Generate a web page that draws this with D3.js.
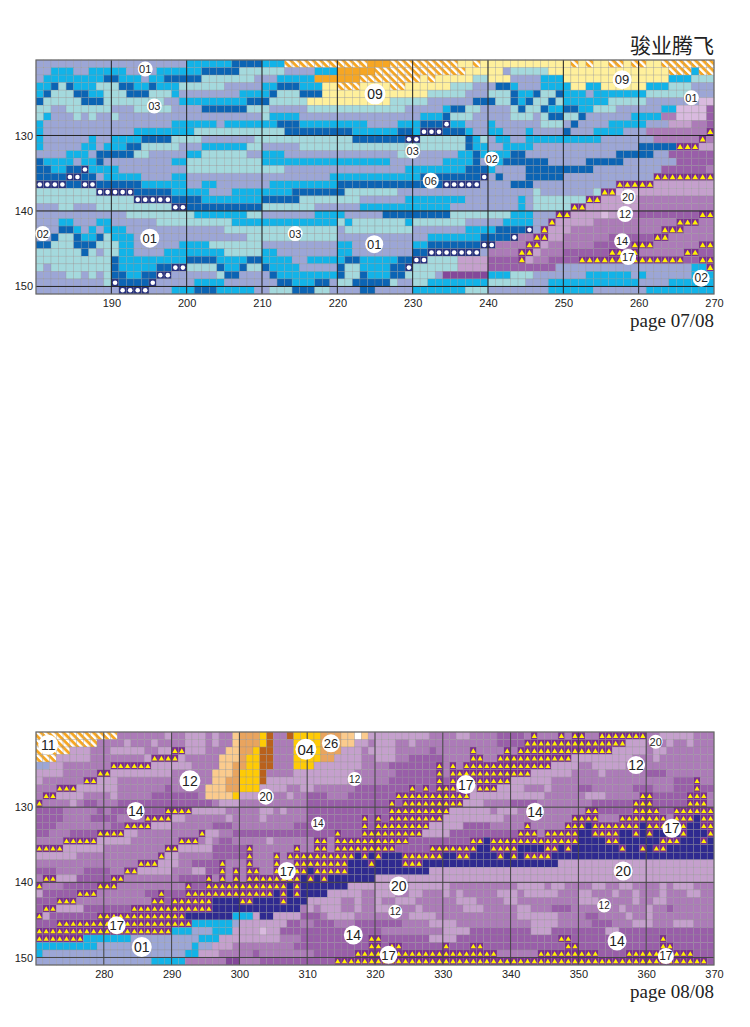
<!DOCTYPE html>
<html><head><meta charset="utf-8">
<script src="https://cdn.jsdelivr.net/npm/d3@7"></script>
<style>html,body{margin:0;background:#fff}svg{display:block}</style></head>
<body><div id="c"></div>
<script>
const topRows=[
"a0-19 c20-25 d26-29 c30-32 h33-43 o44-46 h47-55 y56-57 h58 y59-70 h71 y72 h73 y74-75 h76-77 y78 h79-80 y81-82 h83-89",
"a0-1 c2-4 a5-6 c7-11 a12-15 c16-21 d22-26 b27-32 a33-36 c37-39 o40-44 h45-56 y57-61 a62 b63-67 y68-83 h84-86 c87 h88-89",
"a0 c1-8 d9-10 c11-13 a14 c15-16 d17-21 b22-28 a29-31 c32-36 o37-42 h43-50 y51 h52 y53-57 b58-59 y60-62 a63-66 c67-69 y70-83 c84-86 b87-89",
"c0-1 d2 b3 d4 c5-7 b8-10 d11-12 c13-14 d15 c16-18 b19-24 a25-29 c30-31 d32-34 c35-37 y38-39 h40-42 y43-46 h47-48 y49-54 b55-57 a58-60 d61-62 c63 a64-66 c67-69 c70 y71-72 c73-74 y75-80 c81-83 b84-86 a87-89",
"c0 d1 b2-4 d5-6 c7-8 b9-11 d12-14 b15-17 c18 a19-26 c27-29 c30 d31 b32-34 d35-37 y38-51 b52-56 a57-59 b60-62 d63 c64-65 d66 b67-68 d69 c70-72 a73 c74-80 b81-86 a87-89",
"d0 b1-5 d6-8 b9-16 a17-18 c19-27 d28-30 b31-35 y36-46 b47-51 a52-57 d58-60 b61-62 d63 c64 d65 b66-67 d68 b69 c70-75 b76-80 a81-87 e88-89",
"b0-1 a2-3 b4-9 a10-12 b13-17 a18-21 d22-27 b28-30 a31-35 b36-48 a49-53 c54 d55-56 b57-58 a59-62 b63 d64 b65-66 d67 c68-69 d70-71 c72-73 b74-76 a77-82 c83-84 e85-88 p89",
"b0 c1 a2-4 b5 a6 b7 a8-9 b10 a11-29 b30 c31-34 a35-50 c51-53 d54 b55-57 a58-62 b63-65 a66 b67 d68-69 b70-71 d72 a73-78 c79-82 g83-84 e85-88 p89",
"c0 a1-17 c18-23 a24 c25-31 d32-34 c35-43 a44-47 c48-50 d51-53 w54 c55-56 a57-59 c60 a61-66 b67-69 a70 d71 a72-75 c76-80 a81-83 f84-86 g87-88 p89",
"c0 a1-12 c13-20 b21-32 d33-41 c42-47 d48-49 c50 w51-53 d54-56 c57 a58-59 c60-61 a62-64 c65 a66-69 d70 a71-73 c74-77 a78-80 g81-88 t89",
"c0 a1-6 c7 a8-9 c10-13 d14-17 b18-21 a22-28 b29-41 d42-48 w49-50 b51-56 d57 c58 b59 a60 c61-62 a63-64 c65-74 a75-81 g82-87 t88 g89",
"c0 a1-5 c6-7 a8 c9-11 d12-13 b14-18 a19-21 c22-27 b28-29 a30-34 b35-56 d57 c58-59 a60-61 c62-65 a66-79 d80-84 t85-87 f88-89",
"a0-3 c4-6 a7 d8-12 b13-14 a15-19 c20-21 b22-27 a28-29 c30-32 a33-47 b48-49 a50-55 c56-57 d58 c59-62 d63-64 a65-76 d77-81 a82-83 p84-89",
"d0 c1-4 a5 c6-7 d8 a9-17 c18-19 b20-29 c30-46 a47-53 c54-57 d58 a59 c60-61 d62-67 a68-72 d73-77 a78-84 p85-89",
"d0-1 c2-3 d4-5 w6 c7-10 a11-19 b20-29 b30-32 a33-48 c49-56 d57-59 c60 a61-64 d65-73 a74-82 p83-88 g89",
"d0-3 w4-5 d6-7 a8 c9-13 a14-17 c18-19 a20-29 a30-38 c39-50 d51-58 w59 a60 d61 a62-64 d65-69 a70-81 t82-89",
"w0-3 d4-5 w6-7 d8-13 c14-19 a20-21 c22-23 a24-30 c31-39 d40-53 w54-58 a59-62 d63-65 a66-76 t77-81 f82-89",
"b0-7 w8-12 d13-17 c18-22 a23-25 c26-29 c30-33 d34-40 b41-47 a48-65 b66 a67-73 b74 t75-76 e77-79 f80-89",
"b0-12 w13-17 d18-21 c22-29 d30-34 b35-42 a43-48 c49-56 a57-63 c64 a65 b66-72 t73-74 f75-79 g80-89",
"a0-2 b3-4 a5-7 b8-17 w18-19 d20-29 b30-36 a37-42 c43-54 a55-63 c64 a65 b66-70 t71-72 f73-79 g80-89",
"a0-11 b12-20 c21-27 b28-29 a30-36 c37-40 a41-45 d46-54 b55-62 c63-65 a66-68 t69-70 f71-77 e75 g78-79 p80-87 t88-89",
"a0-2 c3-4 a5-7 c8-9 a10-15 b16-25 c26-39 b40 c41 b42-48 c49 b50-56 a57-61 c62-65 a66-67 t68 f69-73 g74-84 t85-87 g88-89",
"a0-2 d3-4 c5 a6 c7 a8 c9-11 a12-24 b25-29 b30-39 a40 b41-49 a50-56 c57-60 d61-64 w65 a66 t67 f68-70 g71-82 t83-85 g86-89",
"a0-1 d2 b3-4 d5 c6-7 d8 b9 c10-12 a13-27 b28-39 a40-51 c52-58 d59-62 w63 g64-65 t66-67 f68-69 g70-75 p76-81 t82-83 g84-89",
"d0-1 b2-4 d5-7 b8-10 c11-12 a13-18 c19-22 b23-29 a30-39 c40-41 a42-49 c50-51 d52-58 w59-60 g61-64 t65-66 f67 g68-73 p74-78 t79-81 g82-87 t88-89",
"b0-5 d6 b7 a8 b9-10 c11-12 a13-16 c17-24 b25-29 c30-31 a32-39 c40-41 a42-49 d50-51 w52-58 a59 g60-63 t64-65 f66 g67-69 p70-75 t76-77 g78 t79 g80-85 t86-87 p88-89",
"b0-9 d10 c11-19 d20-23 c24-27 d28-29 c30-33 a34-35 c36-40 d41-42 c43-47 d48-49 w50-51 b52-55 f56-59 p60-63 t64 f65 g66-67 p68-71 t72-85 p86-87 t88-89",
"b0 a1 b2-9 d10 c11-15 d16-17 w18-19 b20-23 d24 c25-26 d27 b28-29 d30 c31-34 a35-39 d40 b41-42 c43-46 d47-48 w49 b50-55 f56-59 p60-68 a69-86 c87-88 t89",
"a0-3 b4-5 a6 b7 a8 b9 d10-11 c12-13 d14-15 w16-17 a18-23 b24 d25-26 a27-30 d31 c32-39 d40 b41-42 d43 c44-46 d47-48 b49-52 a53 q54-59 c60-62 b63-65 a66-72 c73-78 a79 c80 a81-86 c87-89",
"a0-8 b9 w10 d11-14 w15 a16-20 c21-24 a25-31 d32-33 c34-36 d37-38 a39 b40-41 d42-46 b47 a48-49 b50-51 c52-59 b60-64 a65-67 c68-79 a80-83 c84-89",
"a0-10 w11-14 a15-17 c18-20 d21-23 c24-28 a29-30 b31-33 d34-36 b37-38 a39-42 d43-44 a45-49 c50-56 b57-59 a60-67 c68-73 a74-80 c81-89"
];
const bottomRows=[
"g0-99 h0-11 f19 f22-24 f26 s29 u30-32 v33 r34 r37 v38-41 u42-44 s45-46 W47 s48 f49-57 f62-63 p68-71 t73 t77 t79-80 t83-89 f92-96",
"g0-99 h0-8 f13 f17 f22-24 f26 s29 u30-32 v33 r34 v38-41 u42-44 s45-46 f47-48 f50-52 f55 p68-71 t72-86 f87-89 f93 f96",
"g0-99 h0-4 f5-7 f11-15 f18-19 t20-21 f22-24 s28-29 u30-31 v32 r33-34 v38-41 u42-44 f45-47 f49-52 p58 t64 t69 t71-84 f85-89 f91-92",
"g0-99 h0-2 f3-7 f16 t17-20 f21 s27-29 u30 v31-32 r33-34 v38-41 u42-43 f44-47 f50-52 p55-59 t64-65 t68-78 f79-87 f91",
"g0-99 a0-1 f2-3 t11-16 f17-22 s27-28 u29-30 v31-32 r33-34 v38-40 f41-47 p52-58 t59 t61 t63-75 f76-79 f82-86",
"g0-99 f0-3 t9-10 f11-19 s26-28 u29 v30-32 r33 f38-46 p53-58 t59 t61-72 f73-78 f83 p90-92",
"g0-99 f0 t7-8 f9-11 s26-27 u28-29 v30-32 r33 f34-46 p52-58 t59 p60 t61-69 f70-75 p94-96 t97",
"g0-99 t3-5 f6-11 p19 s25-27 u28-29 v30-32 f33-36 f39-40 p47-54 t55 p56 t57 p58 t59-61 f62-64 t65-67 f68-71 f75 p80-81 p88-90 p94-99 t97",
"g0-99 t1-2 f3-6 f11 p17-23 s25-28 v29 f30-33 f37 p40-42 p46-52 t53-63 f64-74 f81-83 p91-95 t89-90 t96-98",
"g0-99 t0 f5 p7-8 p12-25 f27-29 p40-51 t52 p53 t54-62 f63-65 p70-73 p82-87 p91-95 t88-90 t96-98",
"g0-99 p0-3 p9 p11-18 t19-22 f23-27 f33-34 f36 p40-51 t52-60 f61-66 f68-70 p83-87 p92-93 t81-82 t88-91 t94-99",
"g0-99 p0-3 p8-11 t16-19 f20-21 f28 f33 p40-47 t48 p49 t50 p51 t52-59 f60-68 t79-82 t86-92 t94-96 n97 t98-99",
"g0-99 p0-2 p11-12 t13-16 f17-19 p26-28 p38-47 t48 p49 t50-57 f58-62 p63-66 t72 t78-80 n81 t82-88 n89 t90-92 t95 n96-97 t98-99",
"g0-99 p0-1 p5-8 t9-12 f13-14 t24 f25-26 p29-43 t44 p45-47 t48-56 f57-60 p61-70 t71-73 t75-79 n80-81 t82-85 n86-87 t88 n89 t90 n91-92 t93 n94 t95 n96-98 t99",
"g0-99 t4-8 f9-13 t21-23 f25 p27-28 f34 t41-42 t44-54 p55-63 t64-65 n66 t67-79 n80-83 t84-85 n86-91 t92-94 n95-97 t98 n99",
"g0-99 t0-3 f4-9 t19-20 f21-25 p26-30 t31 t38 t41-42 t44-52 p53-57 t58-64 n65-66 t67-70 n71-74 t75-76 n77 t78 n79-85 t86 n87-88 t89 n90 t91-92 n93-99",
"g0-99 f0-5 t18 f19-20 p26-30 t31 t35 t37-46 n47 t48 n49 t50 n51-53 t54-59 n60-61 t62-63 n64-67 t68 n69 t70 n71 t72-75 n76-99",
"g0-99 t15-17 f18-20 p23-26 t27 t31 t35 t38-45 n46-48 t49 n50-53 t54-56 n57-76 f77-99",
"g0-99 p0-2 p7-10 t13-14 f15-19 f23-24 p25-26 t27 t29 t31-32 t35 n36-37 t38-39 n40 t41-45 n46-57 f58-99",
"g0-99 t1-2 f3-5 p6-10 t11-12 p21-24 t25 t27 t29 t31-38 n39 t40 n41 t42 n43-49 f50-99",
"g0-99 t0 p4-8 t9-11 t22 p23-24 t25-36 n37 t38 n39-45 f46-53 f55-60 f71-74 f76-77 f82-83 f86-87 f92 f94-96",
"g0-99 f0 p1-5 t6-8 p16-17 t18 p19-21 t22-34 n35 t36 n37 t38 n39-42 f43-47 f50-52 f55-56 f60 f62 f68-70 f72-76 f80-81 f85 f88 f92 f96-97",
"g0-99 p0-2 t3-5 t17-18 p19 t20-25 n26-29 t30-31 n32-35 t36 n37-39 f40-44 f47 f50 f53-55 f62-64 f69-70 f80-82 f88 f91-92",
"g0-99 p0 t1-2 f3-6 p7-13 t14-25 n26-38 f40 f42-44 f47 f50-52 f56 f63-65 f71-72 p76-78 f86 f90 p93",
"g0-99 t0 f1 p2-8 t9-21 n22-28 c29-31 f32 n33-34 f35-38 p39-41 f43-46 f55-58 f71-76 p81-82 f87 f90",
"g0-99 p0-2 t3-22 c23-28 a29 f30-36 p37-38 p41-43 p47-53 f58-61 f73-76 p82-84 f88-90 f94-96",
"g0-99 t0-19 c20-22 a23-25 c26-28 f29-35 e33 p36-50 f60-63 p64-72 f73-75 p76-83 f84-85 p86-99",
"p0-99 t0-6 c7-13 a14-23 c24-26 f27-35 g36-38 t49-50 f58-61 t77-78 t92",
"p0-99 c0-8 a9-22 c23 a24-25 f26-28 g29-37 t49-50 t52-53 t60 t64-65 t78-79 t92-93",
"p0-99 c0 a1-21 c22-23 f24-26 g27-31 g33-40 t47-50 t53-67 g68-73 t74-82 t87-96",
"p0-99 a0-16 c17-21 g22-27 q28-29 g30-32 t44-98"
];
const topXTicks=[190,200,210,220,230,240,250,260,270];
const bottomXTicks=[280,290,300,310,320,330,340,350,360,370];
const yTicks=[130,140,150];
const topLabels=[["01",194.5,121.2,7.5,11],["03",195.7,126.1,7.5,11],["09",225,124.5,10.5,14],["09",257.8,122.6,9.5,13],["01",267,125,7.5,11],["03",230,132.05,7.5,11],["02",240.5,133.1,7.5,11],["06",232.4,136,8,11],["02",180.9,143,7.5,11],["01",195.1,143.6,9.5,13],["03",214.4,143,7.5,11],["01",224.9,144.4,9,13],["20",258.6,138.1,7.5,11],["12",258.2,140.4,8,11],["14",257.8,144,8,11],["17",258.6,146.1,8,11],["02",268.3,148.9,8.5,12]];
const bottomLabels=[["11",271.8,121.7,10,14],["12",292.7,126.5,10.5,14],["14",284.7,130.5,9,14],["17",281.9,145.7,9,13],["01",285.6,148.6,10,14],["20",303.9,128.6,8,12],["04",309.8,122.3,10.5,15],["26",313.5,121.5,9,13],["12",317,126.25,7,10],["14",311.6,132.2,7,10],["17",307,138.5,9,13],["17",333.4,127,9.5,14],["14",343.6,130.6,9,14],["17",363.8,132.8,9.5,14],["12",358.5,124.4,9,14],["20",361.4,121.3,7,11],["20",323.5,140.5,9.5,14],["12",323,143.9,7,10],["14",316.8,147,9.5,14],["17",322,149.65,9,13],["20",356.6,138.5,9.5,14],["12",353.8,143.1,7,10],["14",355.7,147.8,9.5,14],["17",362.9,149.8,8,12]];
const palette={a:"#9CA6D6",b:"#A4D9DD",c:"#12B3E8",d:"#0B64B4",y:"#FFF09C",o:"#F6A623",e:"#D9BADF",f:"#C5A0CD",g:"#AC7BB8",p:"#995EA9",q:"#84489A",n:"#2F2A90",t:"#7A2C8F",w:"#25307F",s:"#FBCB8D",u:"#E9A45E",v:"#FFCB05",r:"#B9611C",W:"#FFFFFF",h:"url(#hatch)"};

function expand(rows,n){
  return rows.map(r=>{
    const a=new Array(n).fill("a");
    r.split(" ").forEach(tok=>{
      const k=tok[0],[s,e]=tok.slice(1).split("-").map(Number);
      for(let i=s;i<=(e===undefined?s:e);i++)a[i]=k;
    });
    return a;
  });
}
const svg=d3.select("#c").append("svg").attr("width",750).attr("height",1027);
const pat=svg.append("defs").append("pattern").attr("id","hatch").attr("width",5.3).attr("height",5.3)
  .attr("patternUnits","userSpaceOnUse").attr("patternTransform","rotate(-45)");
pat.append("rect").attr("width",5.3).attr("height",5.3).attr("fill","#F6A623");
pat.append("rect").attr("width",2.4).attr("height",5.3).attr("fill","#fff");

function panel(rows,x0,n,py0,py1,xTicks,labels,pageText,lineCol){
  const x=d3.scaleLinear().domain([x0,x0+n]).range([36,714]);
  const y=d3.scaleLinear().domain([120,151]).range([py0,py1]);
  const g=svg.append("g");
  const cw=x(x0+1)-x(x0),ch=y(121)-y(120);
  const cells=expand(rows,n).flatMap((r,j)=>r.map((k,i)=>({k,lon:x0+i,lat:120+j})));
  g.selectAll("rect.cell").data(cells).join("rect").attr("class","cell")
    .attr("x",d=>x(d.lon)).attr("y",d=>y(d.lat)).attr("width",cw).attr("height",ch)
    .attr("fill",d=>palette[d.k]).attr("stroke","#8b8b8b").attr("stroke-opacity",.45).attr("stroke-width",.6);
  const tri=d3.symbol().type(d3.symbolTriangle).size(n===90?15:12);
  g.selectAll("path.tri").data(cells.filter(d=>d.k==="t")).join("path").attr("class","tri")
    .attr("d",tri).attr("fill","#FFF200")
    .attr("transform",d=>`translate(${x(d.lon+.5)},${y(d.lat+.5)+.6})`);
  g.selectAll("circle.dot").data(cells.filter(d=>d.k==="w")).join("circle").attr("class","dot")
    .attr("cx",d=>x(d.lon+.5)).attr("cy",d=>y(d.lat+.5)).attr("r",2.3).attr("fill","#fff");
  g.selectAll("line.v").data(d3.range(x0+10,x0+n,10)).join("line").attr("class","v")
    .attr("x1",d=>x(d)).attr("x2",d=>x(d)).attr("y1",py0).attr("y2",py1).attr("stroke",lineCol).attr("stroke-width",1);
  g.selectAll("line.h").data(yTicks).join("line").attr("class","h")
    .attr("x1",36).attr("x2",714).attr("y1",d=>y(d)).attr("y2",d=>y(d)).attr("stroke",lineCol).attr("stroke-width",1);
  g.append("rect").attr("x",36).attr("y",py0).attr("width",678).attr("height",py1-py0)
    .attr("fill","none").attr("stroke","#666").attr("stroke-width",1.2);
  const ax=d3.axisBottom(x).tickValues(xTicks).tickSize(0).tickPadding(5);
  const ay=d3.axisLeft(y).tickValues(yTicks).tickSize(0).tickPadding(3);
  [g.append("g").attr("transform",`translate(0,${py1})`).call(ax),
   g.append("g").attr("transform","translate(36,0)").call(ay)].forEach(s=>{
    s.select(".domain").remove();
    s.selectAll("text").attr("font-family","Liberation Sans").attr("font-size",11).attr("fill","#222");
  });
  const lg=g.selectAll("g.lab").data(labels).join("g").attr("class","lab")
    .attr("transform",d=>`translate(${x(d[1])},${y(d[2])})`);
  lg.append("circle").attr("r",d=>d[3]).attr("fill","#fff");
  lg.append("text").text(d=>d[0]).attr("text-anchor","middle").attr("dy",".36em")
    .attr("font-family","Liberation Sans").attr("font-size",d=>d[4]).attr("fill","#222");
  g.append("text").text(pageText).attr("x",714).attr("y",py1+33).attr("text-anchor","end")
    .attr("font-family","Liberation Serif").attr("font-size",19).attr("fill","#222");
}
panel(topRows,180,90,60,294,topXTicks,topLabels,"page 07/08","#222");
panel(bottomRows,270,100,732,965,bottomXTicks,bottomLabels,"page 08/08","#444");
svg.append("text").text("骏业腾飞").attr("x",714).attr("y",53).attr("text-anchor","end")
  .attr("font-family","Noto Sans CJK SC").attr("font-size",21).attr("fill","#222");
</script></body></html>
